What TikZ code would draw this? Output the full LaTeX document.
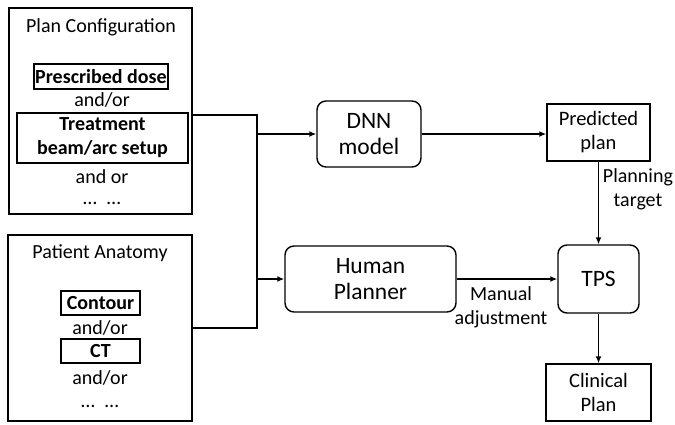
\documentclass[tikz,border=0pt]{standalone}
\usepackage{fontspec}
\setmainfont{Carlito}
\usetikzlibrary{arrows.meta}
\begin{document}
\begin{tikzpicture}[x=1pt,y=-1pt,
  txt/.style={font=\fontsize{20}{24}\selectfont, align=center, inner sep=0pt},
  outer/.style={draw, line width=1.4pt, inner sep=0pt},
  inbox/.style={draw, line width=1.2pt, inner sep=0pt, font=\bfseries\fontsize{20}{24}\selectfont, align=center},
  rbox/.style={draw, line width=1.4pt, rounded corners=9pt, inner sep=0pt, font=\fontsize{23.5}{26}\selectfont, align=center},
  sbox/.style={draw, line width=1.4pt, inner sep=0pt, font=\fontsize{20.5}{24}\selectfont, align=center},
  conn/.style={line width=1.4pt},
  arr/.style={line width=1.4pt, -{Latex[length=7pt,width=6pt]}}]
\useasboundingbox (0,0) rectangle (675,424);
% left boxes
\node[outer, minimum width=183pt, minimum height=206pt] (plan) at (100.5,111) {};
\node[txt] (plant) at (101,27) {Plan Configuration};
\node[inbox, minimum width=134pt, minimum height=25pt] (dose) at (101,76.5) {Prescribed dose};
\node[txt] (ao1) at (102,100) {and/or};
\node[inbox, minimum width=171pt, minimum height=50pt] (beam) at (102.5,138) {Treatment\\beam/arc setup};
\node[txt] (ao2) at (102,177) {and or};
\node[txt] (dots1) at (102,203) {\dots\enspace\dots};

\node[outer, minimum width=184pt, minimum height=186pt] (pat) at (100,328) {};
\node[txt] (patt) at (100,253) {Patient Anatomy};
\node[inbox, minimum width=79pt, minimum height=24pt] (cont) at (100.5,303) {Contour};
\node[txt] (ao3) at (100,328) {and/or};
\node[inbox, minimum width=79pt, minimum height=24pt] (ct) at (100.5,351) {CT};
\node[txt] (ao4) at (100,378) {and/or};
\node[txt] (dots2) at (100,406) {\dots\enspace\dots};

% middle / right
\node[rbox, minimum width=104pt, minimum height=66pt] (dnn) at (369,134) {DNN\\model};
\node[rbox, minimum width=171pt, minimum height=66pt] (hp) at (370.5,279) {Human\\Planner};
\node[sbox, minimum width=103pt, minimum height=57pt] (pred) at (598.5,132.5) {Predicted\\plan};
\node[rbox, minimum width=81pt, minimum height=68pt] (tps) at (598.5,279) {TPS};
\node[sbox, minimum width=105pt, minimum height=57pt] (clin) at (598.5,392.5) {Clinical\\Plan};

\node[txt] (ptl) at (638,189) {Planning\\target};
\node[txt] (mal) at (501,307.5) {Manual\\adjustment};

% connectors
\coordinate (j1) at (257,115);
\coordinate (j2) at (257,328);
\coordinate (jd) at (257,134);
\coordinate (jh) at (257,279);
\draw[conn] (plan.east |- j1) -- (j1) -- (j2) -- (pat.east);
\draw[arr] (jd) -- (dnn.west);
\draw[arr] (jh) -- (hp.west);
\draw[arr] (dnn.east) -- (pred.west |- dnn.east);
\draw[arr] (hp.east) -- (tps.west);
\draw[arr] (pred.south) -- (tps.north);
\draw[arr] (tps.south) -- (clin.north);
\end{tikzpicture}
\end{document}
